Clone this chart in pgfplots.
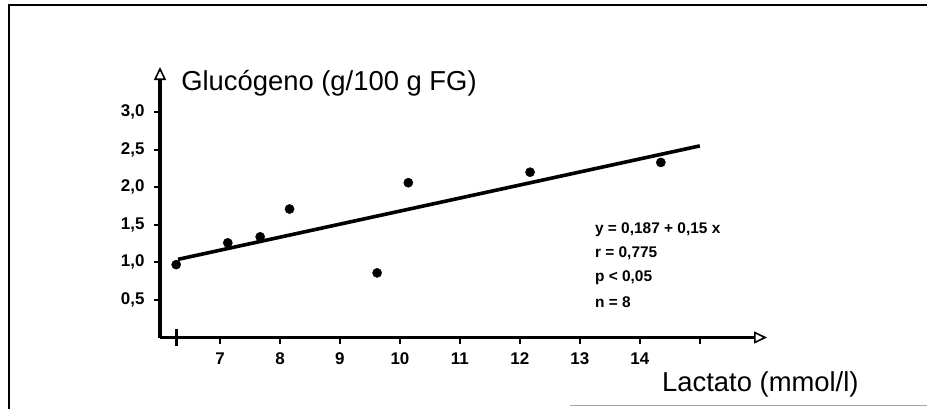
\documentclass[border=0pt]{standalone}
\usepackage{fontspec}
\setmainfont{Liberation Sans}
\usepackage{pgfplots}
\pgfplotsset{compat=1.18}
\usetikzlibrary{arrows.meta}

\begin{document}
\begin{tikzpicture}
\fill[white] (0bp,0bp) rectangle (927bp,409bp);
\useasboundingbox (0bp,0bp) rectangle (927bp,409bp);
% frame
\draw[line width=1.8bp] (9bp,0bp) -- (9bp,404bp) -- (927bp,404bp);
\draw[line width=1bp, black!35] (570bp,3bp) -- (927bp,3bp);
\begin{axis}[
  at={(160bp,71.5bp)}, anchor=south west,
  scale only axis, width=607bp, height=270.5bp,
  xmin=6, xmax=16.12, ymin=0, ymax=3.6,
  axis lines=left,
  axis line style={line width=3.2bp},
  every outer x axis line/.append style={line width=3.2bp, -{Triangle[open,length=13bp,width=12bp,line width=1.6bp]}},
  every outer y axis line/.append style={line width=3.2bp, -{Triangle[open,length=13bp,width=12bp,line width=1.6bp]}},
  clip=false,
  tick align=outside,
  major tick length=6bp,
  every tick/.append style={line width=2.2bp, black},
  xtick={7,8,9,10,11,12,13,14,15},
  xticklabels={7,8,9,10,11,12,13,14,{}},
  ytick={0.5,1,1.5,2,2.5,3},
  yticklabels={{0,5},{1,0},{1,5},{2,0},{2,5},{3,0}},
  extra x ticks={6.28},
  extra x tick labels={},
  extra x tick style={tick align=center, major tick length=16bp, every tick/.append style={line width=2.6bp}},
  /pgf/number format/assume math mode=true,
  every tick label/.append style={font=\fontsize{17}{18}\selectfont\bfseries},
  xticklabel style={yshift=-6bp},
  yticklabel style={xshift=-6bp},
  every axis y label/.style={at={(rel axis cs:0.0347,0.913)}, anchor=base west, inner sep=0pt},
  every axis x label/.style={at={(rel axis cs:0.827,-0.198)}, anchor=base west, inner sep=0pt},
  label style={font=\fontsize{27.5}{30}\selectfont},
  xlabel={Lactato (mmol/l)},
  ylabel={Glucógeno (g/100 g FG)},
]
\addplot[only marks, mark=*, mark size=4.6bp, black] coordinates {
  (6.27,0.97) (7.13,1.26) (7.67,1.34) (8.16,1.71)
  (9.62,0.86) (10.14,2.06) (12.17,2.20) (14.35,2.33)
};
\addplot[line width=3.6bp, black] coordinates {(6.3,1.04) (15,2.55)};
\node[anchor=west, font=\fontsize{15.5}{16}\selectfont\bfseries, inner sep=0pt] at (axis cs:13.25,1.433) {y = 0,187 + 0,15 x};
\node[anchor=west, font=\fontsize{15.5}{16}\selectfont\bfseries, inner sep=0pt] at (axis cs:13.25,1.127) {r = 0,775};
\node[anchor=west, font=\fontsize{15.5}{16}\selectfont\bfseries, inner sep=0pt] at (axis cs:13.25,0.793) {p < 0,05};
\node[anchor=west, font=\fontsize{15.5}{16}\selectfont\bfseries, inner sep=0pt] at (axis cs:13.25,0.473) {n = 8};
\end{axis}
\end{tikzpicture}
\end{document}
